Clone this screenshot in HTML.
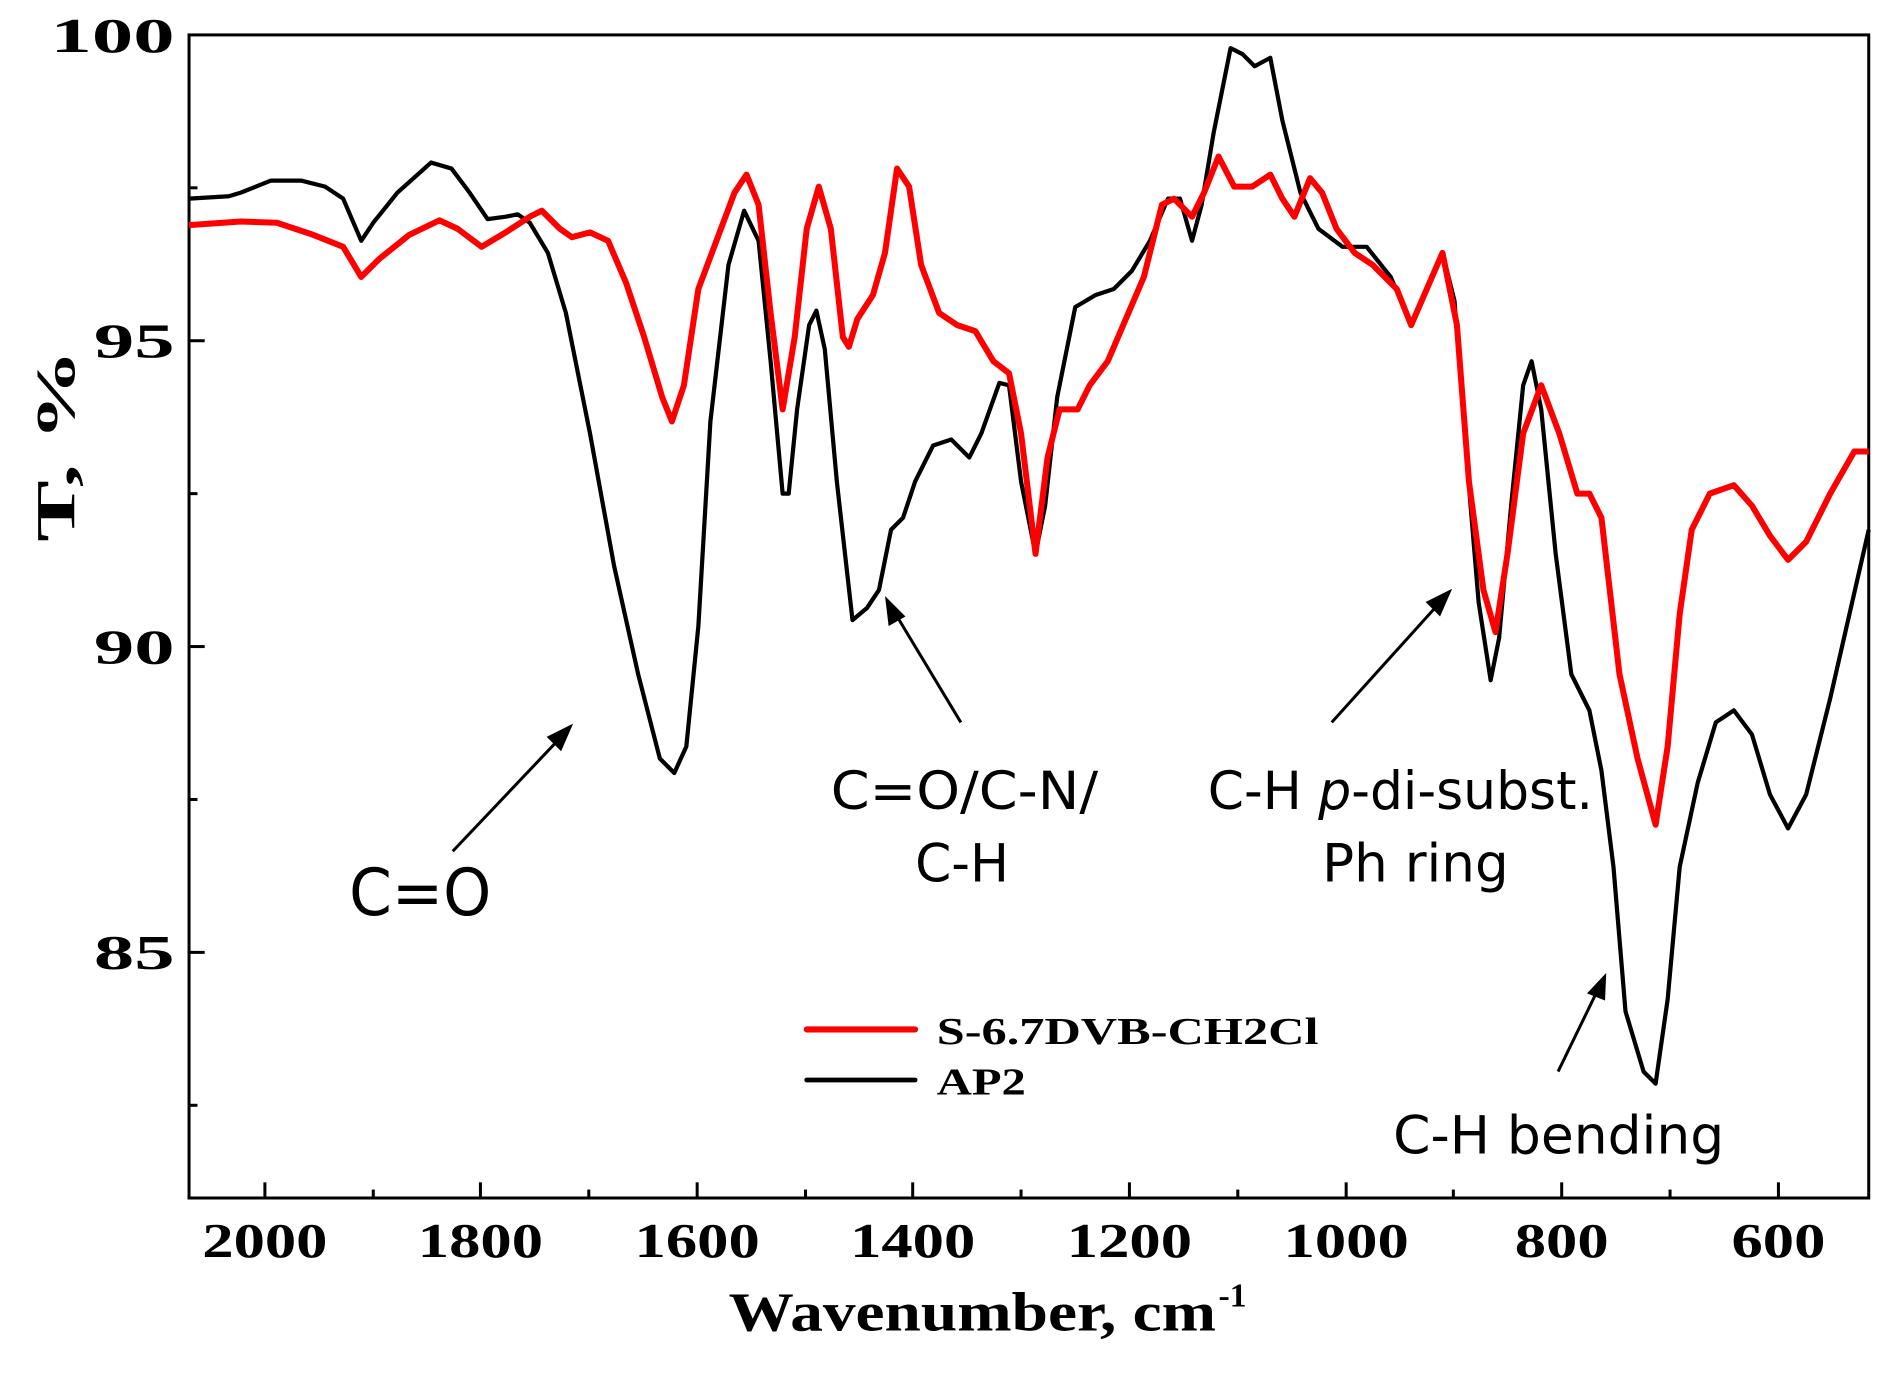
<!DOCTYPE html>
<html><head><meta charset="utf-8"><style>html,body{margin:0;padding:0;background:#fff}svg{display:block}</style></head>
<body>
<svg width="1888" height="1378" viewBox="0 0 1568 1144.5" preserveAspectRatio="none" xmlns="http://www.w3.org/2000/svg">
<rect width="1568" height="1145" fill="#fff"/>
<g stroke="#000" stroke-width="2.5" fill="none">
<rect x="157" y="29" width="1395" height="966"/>
<line x1="157" y1="283" x2="170" y2="283"/><line x1="157" y1="537" x2="170" y2="537"/><line x1="157" y1="791" x2="170" y2="791"/>
<line x1="157" y1="156" x2="164" y2="156"/><line x1="157" y1="410" x2="164" y2="410"/><line x1="157" y1="664" x2="164" y2="664"/><line x1="157" y1="918" x2="164" y2="918"/>
<line x1="220" y1="995" x2="220" y2="982"/><line x1="399" y1="995" x2="399" y2="982"/><line x1="579" y1="995" x2="579" y2="982"/><line x1="758" y1="995" x2="758" y2="982"/><line x1="938" y1="995" x2="938" y2="982"/><line x1="1118" y1="995" x2="1118" y2="982"/><line x1="1297" y1="995" x2="1297" y2="982"/><line x1="1477" y1="995" x2="1477" y2="982"/>
<line x1="310" y1="995" x2="310" y2="988"/><line x1="489" y1="995" x2="489" y2="988"/><line x1="669" y1="995" x2="669" y2="988"/><line x1="848" y1="995" x2="848" y2="988"/><line x1="1028" y1="995" x2="1028" y2="988"/><line x1="1207" y1="995" x2="1207" y2="988"/><line x1="1387" y1="995" x2="1387" y2="988"/>
</g>
<g font-family="Liberation Serif, serif" font-weight="bold" font-size="40" lengthAdjust="spacingAndGlyphs">
<text x="42" y="43" textLength="103" lengthAdjust="spacingAndGlyphs">100</text><text x="78" y="297" textLength="67" lengthAdjust="spacingAndGlyphs">95</text><text x="78" y="551" textLength="67" lengthAdjust="spacingAndGlyphs">90</text><text x="78" y="805" textLength="67" lengthAdjust="spacingAndGlyphs">85</text>
<text x="168" y="1044" textLength="104" lengthAdjust="spacingAndGlyphs">2000</text><text x="347" y="1044" textLength="104" lengthAdjust="spacingAndGlyphs">1800</text><text x="527" y="1044" textLength="104" lengthAdjust="spacingAndGlyphs">1600</text><text x="706" y="1044" textLength="104" lengthAdjust="spacingAndGlyphs">1400</text><text x="886" y="1044" textLength="104" lengthAdjust="spacingAndGlyphs">1200</text><text x="1066" y="1044" textLength="104" lengthAdjust="spacingAndGlyphs">1000</text><text x="1258" y="1044" textLength="78" lengthAdjust="spacingAndGlyphs">800</text><text x="1438" y="1044" textLength="78" lengthAdjust="spacingAndGlyphs">600</text>
<text x="605" y="1105" font-size="46" textLength="405" lengthAdjust="spacingAndGlyphs">Wavenumber, cm</text><text x="1012" y="1085" font-size="28">-1</text>
<text transform="translate(62,450) rotate(-90)" font-size="46" textLength="160" lengthAdjust="spacingAndGlyphs">T, %</text>
</g>
<polyline fill="none" stroke="#000" stroke-width="3.5" stroke-linejoin="round" points="157,165 190,163 200,160 225,150 250,150 270,155 285,165 300,200 310,185 330,160 358,135 375,140 390,160 405,182 420,180 430,178 440,185 455,210 470,260 490,360 510,470 530,560 548,630 560,642 570,620 580,520 590,350 605,220 618,175 630,200 640,300 650,410 655,410 662,340 672,270 678,258 685,290 695,400 708,515 720,505 730,490 740,440 750,430 760,400 775,370 790,365 805,380 815,360 830,318 838,320 848,400 860,460 868,420 878,330 893,255 910,245 925,240 940,225 955,200 970,165 980,165 990,200 998,170 1008,110 1022,40 1032,45 1042,55 1055,48 1065,100 1080,160 1095,190 1115,205 1135,205 1155,230 1172,270 1185,240 1198,210 1208,250 1218,380 1228,500 1238,565 1245,530 1255,420 1265,320 1272,300 1280,340 1292,460 1305,560 1320,590 1330,640 1340,720 1350,840 1365,890 1375,900 1385,830 1395,720 1410,650 1425,600 1440,590 1455,610 1470,660 1485,688 1500,660 1520,580 1552,440"/>
<polyline fill="none" stroke="#f00" stroke-width="5" stroke-linejoin="round" points="157,187 200,184 230,185 260,195 285,205 300,230 315,215 340,195 365,183 380,190 400,205 420,193 440,180 450,175 465,190 475,197 490,193 505,200 520,235 535,280 550,330 558,350 568,320 580,240 595,200 610,160 620,145 630,170 640,260 650,340 660,280 670,190 680,155 690,190 700,280 705,288 712,265 725,245 735,210 745,140 755,155 765,220 780,260 795,270 810,275 825,300 838,310 848,360 860,460 870,380 880,340 895,340 905,320 920,300 935,265 950,230 965,170 975,165 990,180 1000,160 1012,130 1025,155 1040,155 1055,145 1065,165 1075,180 1088,148 1098,160 1110,190 1125,210 1140,220 1160,240 1172,270 1185,240 1198,210 1210,270 1220,400 1232,490 1242,525 1252,460 1265,360 1280,320 1295,360 1310,410 1320,410 1330,430 1345,560 1360,630 1375,685 1385,620 1395,510 1405,440 1420,410 1440,403 1455,420 1470,445 1485,465 1500,450 1520,410 1540,375 1552,375"/>
<line x1="670" y1="855" x2="760" y2="855" stroke="#f00" stroke-width="5" stroke-linecap="round"/>
<line x1="670" y1="897" x2="760" y2="897" stroke="#000" stroke-width="4" stroke-linecap="round"/>
<g font-family="Liberation Serif, serif" font-weight="bold" font-size="32">
<text x="778" y="867" textLength="317" lengthAdjust="spacingAndGlyphs">S-6.7DVB-CH2Cl</text><text x="778" y="909" textLength="74" lengthAdjust="spacingAndGlyphs">AP2</text>
</g>
<g stroke="#000" stroke-width="2.5">
<line x1="376" y1="707" x2="468" y2="610"/><line x1="798" y1="600" x2="742" y2="507"/><line x1="1106" y1="600" x2="1198" y2="498"/><line x1="1294" y1="890" x2="1328" y2="820"/>
</g>
<g fill="#000">
<polygon points="476,601 454,612 466,624"/><polygon points="735,495 738,520 752,512"/><polygon points="1206,489 1184,500 1196,512"/><polygon points="1334,808 1318,825 1333,831"/>
</g>
<g font-family="DejaVu Sans, Liberation Sans, sans-serif" font-size="44">
<text x="290" y="760" font-size="54" textLength="118" lengthAdjust="spacingAndGlyphs">C=O</text>
<text x="690" y="672" textLength="222" lengthAdjust="spacingAndGlyphs">C=O/C-N/</text><text x="760" y="732" textLength="78" lengthAdjust="spacingAndGlyphs">C-H</text>
<text x="1003" y="672" textLength="320" lengthAdjust="spacingAndGlyphs">C-H <tspan font-style="italic">p</tspan>-di-subst.</text><text x="1098" y="732" textLength="155" lengthAdjust="spacingAndGlyphs">Ph ring</text>
<text x="1157" y="958" textLength="275" lengthAdjust="spacingAndGlyphs">C-H bending</text>
</g>
</svg>
</body></html>
